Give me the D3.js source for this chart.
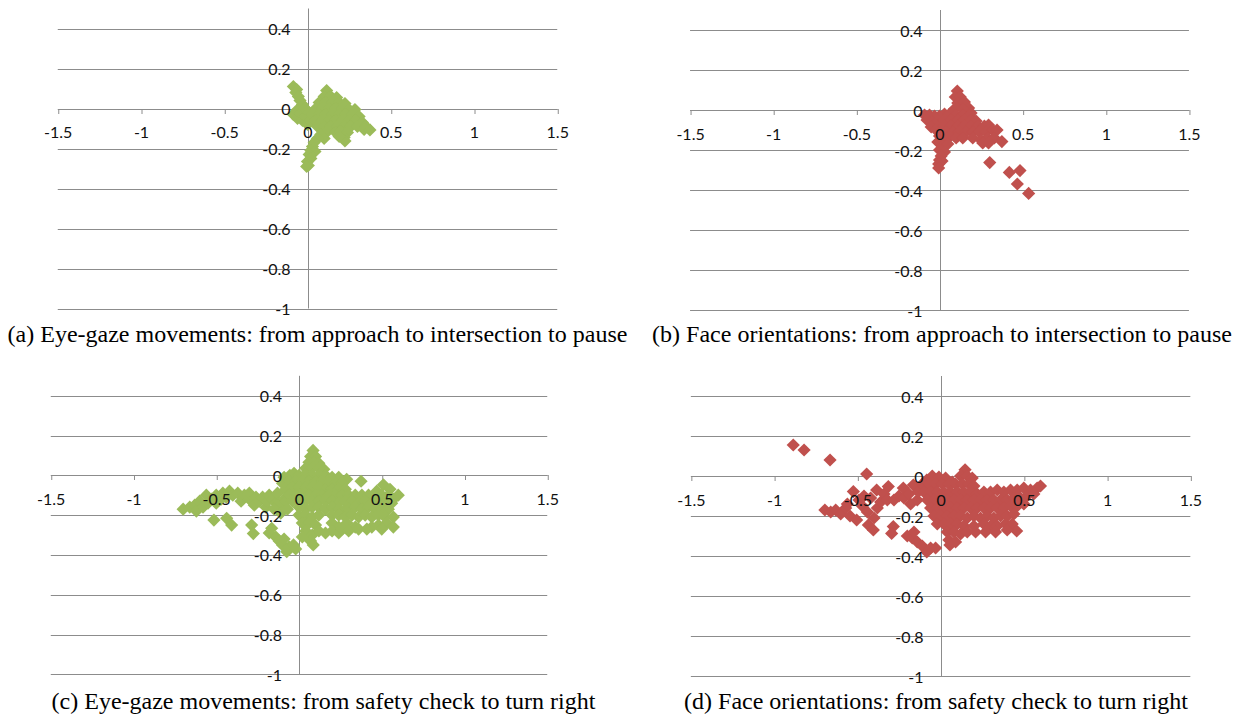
<!DOCTYPE html>
<html>
<head>
<meta charset="utf-8">
<script src="https://cdn.jsdelivr.net/npm/d3@7"></script>
<style>
  html, body { margin: 0; padding: 0; background: #fff; }
  svg { display: block; }
</style>
</head>
<body>
<svg id="chart" width="1245" height="715"></svg>
<script>
// Axis ticks shared by all four panels
const xTicks = [-1.5, -1, -0.5, 0, 0.5, 1, 1.5];
const yTicks = [0.4, 0.2, 0, -0.2, -0.4, -0.6, -0.8, -1];

const captions = [
  "(a) Eye-gaze movements: from approach to intersection to pause",
  "(b) Face orientations: from approach to intersection to pause",
  "(c) Eye-gaze movements: from safety check to turn right",
  "(d) Face orientations: from safety check to turn right"
];

// (a) eye-gaze, approach -> pause  [horizontal, vertical]
const eyeApproach = [
  [-0.085,0.11],[-0.065,0.095],[-0.07,0.08],[-0.055,0.06],[-0.045,0.04],[-0.03,0.02],
  [-0.085,-0.03],[-0.065,-0.01],[-0.06,-0.05],[-0.04,-0.025],[-0.03,-0.06],[-0.01,-0.04],
  [-0.015,0.0],[0.0,-0.08],[0.02,-0.06],[0.01,-0.02],
  [0.115,0.09],[0.10,0.06],[0.14,0.06],[0.175,0.055],
  [0.07,0.03],[0.11,0.03],[0.15,0.03],[0.19,0.03],[0.225,0.025],
  [0.05,0.0],[0.09,0.0],[0.13,0.0],[0.17,0.0],[0.21,0.0],[0.25,-0.005],[0.285,-0.005],
  [0.03,-0.03],[0.07,-0.03],[0.11,-0.03],[0.15,-0.03],[0.19,-0.03],[0.23,-0.03],[0.27,-0.03],[0.31,-0.04],
  [0.05,-0.06],[0.09,-0.06],[0.13,-0.06],[0.17,-0.06],[0.21,-0.06],[0.25,-0.06],[0.29,-0.06],[0.33,-0.07],
  [0.06,-0.09],[0.10,-0.09],[0.14,-0.09],[0.18,-0.09],[0.22,-0.09],[0.26,-0.09],[0.30,-0.09],[0.35,-0.09],
  [0.12,-0.115],[0.17,-0.12],[0.20,-0.115],[0.24,-0.12],[0.34,-0.105],[0.375,-0.107],
  [0.22,-0.145],[0.225,-0.162],[0.19,-0.14],
  [0.08,-0.13],[0.10,-0.15],[0.06,-0.15],[0.04,-0.17],[0.03,-0.19],[0.02,-0.21],[0.045,-0.215],
  [0.01,-0.23],[0.02,-0.25],[0.0,-0.265],[0.005,-0.285],[-0.005,-0.29]
];

// (b) face orientation, approach -> pause
const faceApproach = [
  [0.107,0.095],[0.095,0.065],[0.125,0.065],[0.11,0.035],[0.15,0.04],[0.175,0.01],[0.14,0.005],[0.09,0.005],[0.19,-0.015],
  [-0.09,-0.025],[-0.06,-0.025],[-0.03,-0.03],[-0.075,-0.05],[-0.045,-0.06],[-0.015,-0.06],[-0.05,-0.085],
  [-0.02,-0.1],[0.0,-0.08],[0.01,-0.12],[0.0,-0.03],[0.03,-0.02],
  [0.06,-0.02],[0.1,-0.025],[0.14,-0.025],[0.18,-0.03],
  [0.03,-0.05],[0.07,-0.05],[0.11,-0.05],[0.15,-0.05],[0.19,-0.05],[0.22,-0.055],
  [0.03,-0.08],[0.07,-0.08],[0.11,-0.08],[0.15,-0.08],[0.19,-0.08],[0.23,-0.08],[0.27,-0.08],[0.295,-0.075],
  [0.04,-0.11],[0.08,-0.11],[0.12,-0.11],[0.16,-0.11],[0.2,-0.11],[0.24,-0.11],[0.28,-0.11],[0.32,-0.1],[0.346,-0.1],
  [0.06,-0.135],[0.1,-0.14],[0.14,-0.14],[0.2,-0.14],[0.25,-0.15],[0.29,-0.14],[0.33,-0.14],[0.375,-0.158],
  [0.26,-0.165],[0.295,-0.165],
  [0.0,-0.13],[0.03,-0.15],[-0.01,-0.16],[0.02,-0.18],[0.05,-0.17],[0.0,-0.2],[0.03,-0.21],[0.01,-0.23],
  [0.0,-0.25],[0.015,-0.255],[-0.005,-0.27],[-0.005,-0.29],
  [0.302,-0.263],[0.42,-0.312],[0.484,-0.303],[0.468,-0.37],[0.536,-0.417]
];

// (c) eye-gaze, safety check -> turn right
const eyeSafety = [
  [-0.70,-0.17],[-0.66,-0.16],[-0.63,-0.15],[-0.62,-0.18],[-0.60,-0.13],[-0.58,-0.16],[-0.56,-0.10],
  [-0.55,-0.14],[-0.53,-0.12],[-0.50,-0.14],[-0.50,-0.10],[-0.47,-0.12],[-0.46,-0.09],[-0.42,-0.08],
  [-0.44,-0.11],[-0.40,-0.10],[-0.37,-0.09],[-0.35,-0.13],[-0.33,-0.10],[-0.30,-0.12],[-0.30,-0.09],
  [-0.27,-0.15],[-0.26,-0.11],[-0.24,-0.13],[-0.22,-0.11],[-0.20,-0.16],[-0.19,-0.13],[-0.18,-0.10],
  [-0.16,-0.12],[-0.14,-0.14],[-0.13,-0.09],[-0.12,-0.14],[-0.10,-0.16],[-0.09,-0.12],[-0.08,-0.13],
  [-0.15,-0.17],[-0.11,-0.19],[-0.07,-0.17],
  [-0.514,-0.225],[-0.437,-0.216],[-0.407,-0.25],[-0.286,-0.25],[-0.276,-0.293],
  [-0.18,-0.29],[-0.165,-0.266],[-0.14,-0.31],[-0.12,-0.33],[-0.10,-0.35],[-0.074,-0.384],
  [-0.06,-0.36],[-0.033,-0.35],[-0.02,-0.37],[-0.09,-0.32],
  [0.085,0.125],[0.07,0.095],[0.1,0.095],[0.06,0.065],[0.09,0.065],[0.12,0.06],
  [0.04,0.035],[0.08,0.035],[0.12,0.035],[0.15,0.03],
  [-0.09,-0.01],[-0.055,0.0],[-0.03,0.01],[0.0,0.0],[0.04,0.005],[0.08,0.0],[0.12,0.0],[0.16,0.0],
  [0.2,-0.01],[0.24,-0.01],[0.288,-0.02],
  [-0.1,-0.04],[-0.06,-0.03],[-0.02,-0.03],[0.02,-0.03],[0.06,-0.03],[0.1,-0.03],[0.14,-0.03],
  [0.18,-0.04],[0.22,-0.04],[0.26,-0.04],[0.375,-0.03],
  [-0.08,-0.07],[-0.04,-0.06],[0.0,-0.06],[0.04,-0.06],[0.08,-0.06],[0.12,-0.06],[0.16,-0.07],
  [0.2,-0.07],[0.24,-0.07],[0.28,-0.07],[0.51,-0.048],[0.47,-0.08],[0.55,-0.07],
  [-0.06,-0.1],[-0.02,-0.1],[0.02,-0.1],[0.06,-0.1],[0.1,-0.1],[0.14,-0.1],[0.18,-0.1],[0.22,-0.1],
  [0.26,-0.1],[0.3,-0.1],[0.34,-0.1],[0.38,-0.1],[0.42,-0.1],[0.46,-0.11],[0.5,-0.1],[0.54,-0.1],
  [0.6,-0.1],[0.57,-0.12],
  [-0.04,-0.13],[0.0,-0.13],[0.04,-0.13],[0.08,-0.13],[0.12,-0.13],[0.16,-0.13],[0.2,-0.13],
  [0.24,-0.14],[0.28,-0.13],[0.32,-0.13],[0.36,-0.14],[0.4,-0.13],[0.44,-0.14],[0.48,-0.13],
  [0.52,-0.14],[0.56,-0.14],
  [0.0,-0.16],[0.04,-0.17],[0.08,-0.16],[0.12,-0.16],[0.16,-0.17],[0.2,-0.16],[0.24,-0.17],[0.27,-0.18],
  [0.3,-0.17],[0.34,-0.16],[0.38,-0.17],[0.42,-0.16],[0.46,-0.17],[0.5,-0.17],[0.54,-0.17],
  [0.0,-0.2],[0.04,-0.2],[0.08,-0.21],[0.12,-0.2],[0.2,-0.2],[0.24,-0.2],[0.28,-0.21],[0.32,-0.2],
  [0.36,-0.21],[0.4,-0.2],[0.44,-0.21],[0.48,-0.2],[0.52,-0.21],[0.57,-0.21],
  [0.02,-0.24],[0.06,-0.24],[0.1,-0.25],[0.2,-0.24],[0.24,-0.26],[0.29,-0.24],[0.34,-0.26],
  [0.44,-0.26],[0.48,-0.25],[0.53,-0.24],[0.57,-0.26],
  [0.04,-0.28],[0.08,-0.3],[0.12,-0.28],[0.16,-0.29],[0.2,-0.28],[0.24,-0.29],[0.26,-0.27],[0.3,-0.28],
  [0.36,-0.27],[0.41,-0.27],[0.5,-0.27],
  [0.07,-0.33],[0.086,-0.35],[0.02,-0.31]
];

// (d) face orientation, safety check -> turn right
const faceSafety = [
  [-0.885,0.155],[-0.82,0.13],[-0.664,0.08],[-0.444,0.01],
  [-0.695,-0.17],[-0.66,-0.18],[-0.63,-0.17],[-0.6,-0.19],[-0.57,-0.16],[-0.544,-0.2],[-0.504,-0.22],
  [-0.524,-0.078],[-0.49,-0.12],[-0.47,-0.15],[-0.46,-0.1],[-0.56,-0.14],[-0.434,-0.245],[-0.404,-0.27],
  [-0.44,-0.18],[-0.42,-0.11],[-0.4,-0.21],[-0.384,-0.07],[-0.38,-0.16],[-0.36,-0.13],[-0.34,-0.09],
  [-0.32,-0.12],[-0.314,-0.053],[-0.28,-0.12],[-0.25,-0.1],[-0.224,-0.06],[-0.22,-0.11],[-0.19,-0.09],
  [-0.18,-0.14],[-0.164,-0.045],[-0.14,-0.12],[-0.134,-0.078],[-0.1,-0.05],[-0.083,-0.02],[-0.06,-0.05],
  [-0.284,-0.253],[-0.294,-0.287],
  [-0.2,-0.3],[-0.17,-0.31],[-0.14,-0.33],[-0.11,-0.35],[-0.083,-0.38],[-0.06,-0.36],[-0.03,-0.36],[-0.16,-0.28],
  [0.147,0.031],
  [-0.05,0.0],[-0.01,-0.005],[0.03,-0.01],[0.12,0.0],[0.16,0.0],[0.19,-0.01],[0.07,-0.03],
  [-0.11,-0.04],[-0.07,-0.04],[-0.03,-0.04],[0.01,-0.04],[0.05,-0.04],[0.09,-0.04],[0.13,-0.04],
  [0.17,-0.04],[0.2,-0.05],
  [-0.1,-0.08],[-0.06,-0.08],[-0.02,-0.08],[0.02,-0.08],[0.06,-0.08],[0.1,-0.08],[0.14,-0.08],
  [0.18,-0.08],[0.22,-0.09],[0.26,-0.08],[0.3,-0.08],[0.34,-0.07],[0.38,-0.08],[0.42,-0.07],
  [0.46,-0.07],[0.5,-0.06],[0.54,-0.07],[0.58,-0.06],[0.6,-0.05],
  [-0.08,-0.12],[-0.04,-0.12],[0.0,-0.12],[0.04,-0.12],[0.08,-0.12],[0.12,-0.12],[0.16,-0.12],
  [0.2,-0.12],[0.24,-0.12],[0.28,-0.12],[0.32,-0.12],[0.36,-0.12],[0.4,-0.12],[0.44,-0.11],
  [0.48,-0.11],[0.52,-0.1],[0.56,-0.09],
  [-0.06,-0.16],[-0.02,-0.16],[0.02,-0.16],[0.06,-0.16],[0.1,-0.16],[0.14,-0.16],[0.18,-0.16],
  [0.22,-0.16],[0.26,-0.16],[0.3,-0.16],[0.34,-0.16],[0.38,-0.16],[0.42,-0.15],[0.46,-0.15],[0.5,-0.14],
  [-0.04,-0.2],[0.0,-0.2],[0.04,-0.2],[0.08,-0.2],[0.12,-0.2],[0.16,-0.21],[0.2,-0.2],[0.24,-0.21],
  [0.28,-0.2],[0.32,-0.21],[0.36,-0.2],[0.4,-0.2],[0.44,-0.19],
  [-0.02,-0.24],[0.02,-0.24],[0.06,-0.24],[0.1,-0.24],[0.14,-0.25],[0.2,-0.25],[0.26,-0.24],
  [0.3,-0.25],[0.34,-0.25],[0.39,-0.24],[0.43,-0.24],[0.457,-0.275],
  [0.04,-0.28],[0.08,-0.28],[0.12,-0.29],[0.16,-0.28],[0.21,-0.28],[0.27,-0.28],[0.33,-0.28],[0.4,-0.27],
  [0.05,-0.32],[0.09,-0.33],[0.056,-0.345]
];

const GREEN = "#9BBB59";
const RED = "#C0504D";

// Panel placement: origin in pixels and pixels per unit
const panels = [
  { data: eyeApproach,  color: GREEN, cx: 307.5, ux: 166.5, cy: 108.5, uy: 200, caption: captions[0], capX: 317.5, capY: 342 },
  { data: faceApproach, color: RED,   cx: 939.5, ux: 166.3, cy: 110,   uy: 200, caption: captions[1], capX: 942,   capY: 342 },
  { data: eyeSafety,    color: GREEN, cx: 299,   ux: 165.5, cy: 475.3, uy: 199, caption: captions[2], capX: 323.5, capY: 709 },
  { data: faceSafety,   color: RED,   cx: 940.6, ux: 166.5, cy: 476,   uy: 200, caption: captions[3], capX: 936,   capY: 709 }
];

const svg = d3.select("#chart");
const GRID = "#8c8c8c";
const LABEL_FONT = "Lato, 'Open Sans', sans-serif";
const crisp = v => Math.round(v) + 0.5;
const R = 6.6; // diamond half-diagonal
const diamond = `M0,${-R}L${R},0L0,${R}L${-R},0Z`;

panels.forEach(p => {
  const x = d3.scaleLinear().domain([-1.5, 1.5]).range([p.cx - 1.5 * p.ux, p.cx + 1.5 * p.ux]);
  const y = d3.scaleLinear().domain([-1, 0.5]).range([p.cy + p.uy, p.cy - 0.5 * p.uy]);
  const g = svg.append("g");

  // horizontal gridlines
  g.append("g").selectAll("line").data(yTicks).join("line")
    .attr("x1", x(-1.5)).attr("x2", x(1.5))
    .attr("y1", d => crisp(y(d))).attr("y2", d => crisp(y(d)))
    .attr("stroke", GRID).attr("stroke-width", 1);

  // vertical axis line
  g.append("line")
    .attr("x1", crisp(x(0))).attr("x2", crisp(x(0)))
    .attr("y1", y(0.5)).attr("y2", y(-1))
    .attr("stroke", GRID).attr("stroke-width", 1);

  // horizontal axis with downward tick marks
  const xAxisLines = g.append("g")
    .attr("transform", `translate(0,${crisp(y(0)) - 0.5})`)
    .call(d3.axisBottom(x).tickValues(xTicks).tickSize(5).tickSizeOuter(0).tickFormat(""));
  xAxisLines.select(".domain").attr("stroke", GRID);
  xAxisLines.selectAll(".tick line").attr("stroke", GRID).attr("transform", "translate(0.5,0)");

  // markers
  g.append("g").selectAll("path").data(p.data).join("path")
    .attr("d", diamond)
    .attr("transform", d => `translate(${x(d[0])},${y(d[1])})`)
    .attr("fill", p.color);

  // tick labels, drawn above the markers
  const xLab = g.append("g")
    .attr("transform", `translate(0,${y(0)})`)
    .style("color", "#111")
    .call(d3.axisBottom(x).tickValues(xTicks).tickSize(0).tickPadding(0).tickFormat(d => String(d)));
  xLab.select(".domain").remove();
  xLab.selectAll("text")
    .attr("y", 29.5).attr("dy", null)
    .style("font-family", LABEL_FONT).style("font-size", "16px");

  const yLab = g.append("g")
    .attr("transform", `translate(${x(0)},0)`)
    .style("color", "#111")
    .call(d3.axisLeft(y).tickValues(yTicks).tickSize(0).tickPadding(17).tickFormat(d => String(d)));
  yLab.select(".domain").remove();
  yLab.selectAll("text")
    .attr("dy", null).attr("y", 6)
    .style("font-family", LABEL_FONT).style("font-size", "16px");

  // caption
  svg.append("text")
    .attr("x", p.capX).attr("y", p.capY)
    .attr("text-anchor", "middle")
    .style("font-family", "'Liberation Serif', 'Times New Roman', serif")
    .style("font-size", "24px")
    .attr("fill", "#000")
    .text(p.caption);
});
</script>
</body>
</html>
